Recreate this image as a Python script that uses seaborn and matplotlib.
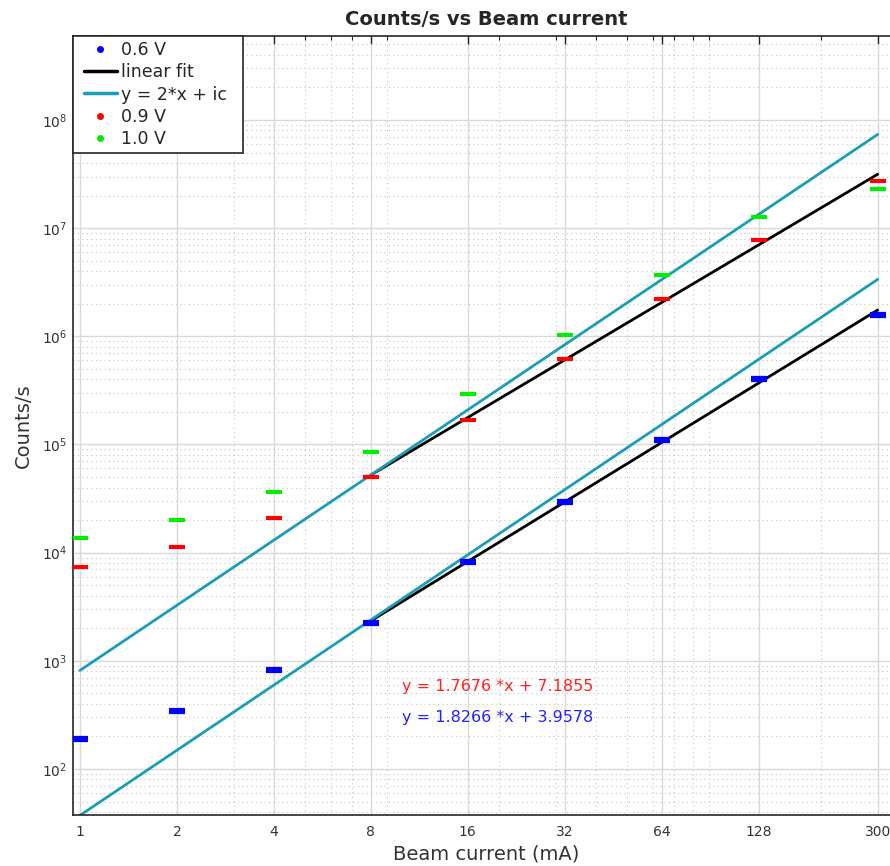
import numpy as np
import pandas as pd
import matplotlib
matplotlib.use("Agg")
import matplotlib.pyplot as plt
import matplotlib.ticker as mticker
from matplotlib.lines import Line2D
from matplotlib.legend_handler import HandlerLine2D
import seaborn as sns

# ---- data ----
current = [1, 2, 4, 8, 16, 32, 64, 128, 300]
counts_06 = [189, 344, 822, 2250, 8130, 29500, 110000, 400000, 1590000]
counts_09 = [7410, 11200, 20700, 49700, 168000, 612000, 2210000, 7740000, 27300000]
counts_10 = [13800, 19900, 36100, 85700, 290000, 1030000, 3700000, 12700000, 22800000]

fit_x = [8, 300]
fit_09 = [5.22e4, 3.15e7]
fit_06 = [2.34e3, 1.75e6]

slope2_x = [1, 300]
slope2_09 = [816, 7.35e7]
slope2_06 = [37.3, 3.36e6]

xticks = [1, 2, 4, 8, 16, 32, 64, 128, 300]
xticklabels = ["1", "2", "4", "8", "16", "32", "64", "128", "300"]

fit_text_09 = "y = 1.7676 *x + 7.1855"
fit_text_06 = "y = 1.8266 *x + 3.9578"
text_pos_x = [10, 10]
text_pos_y = [575, 300]

legend_labels = ["0.6 V", "linear fit", "y = 2*x + ic  ", "0.9 V", "1.0 V"]

# ---- styling ----
sns.set_theme(style="white")
plt.rcParams['font.family'] = ['DejaVu Sans']

BLUE = "#0000ff"
RED = "#ff0000"
GREEN = "#00ee00"
CYAN = "#1a9db6"

fig = plt.figure(figsize=(8.9, 8.66), dpi=100)
ax = fig.add_axes([0.0815, 0.0585, 0.9298, 0.8999])
ax.set_xscale('log')
ax.set_yscale('log')

# lines
sns.lineplot(x=fit_x, y=fit_06, color="black", lw=2.0, ax=ax, zorder=2)
sns.lineplot(x=fit_x, y=fit_09, color="black", lw=2.0, ax=ax, zorder=2)
sns.lineplot(x=slope2_x, y=slope2_06, color=CYAN, lw=2.0, ax=ax, zorder=2)
sns.lineplot(x=slope2_x, y=slope2_09, color=CYAN, lw=2.0, ax=ax, zorder=2)

# points (short horizontal bars)
sns.scatterplot(x=current, y=counts_06, marker='_', s=125, linewidth=4.5,
                color=BLUE, ax=ax, legend=False, zorder=3)
sns.scatterplot(x=current, y=counts_09, marker='_', s=125, linewidth=3.0,
                color=RED, ax=ax, legend=False, zorder=3)
sns.scatterplot(x=current, y=counts_10, marker='_', s=125, linewidth=3.0,
                color=GREEN, ax=ax, legend=False, zorder=3)

ax.set_xlim(0.948, 352)
ax.set_ylim(37.3, 5.97e8)

# ticks
ax.xaxis.set_major_locator(mticker.FixedLocator(xticks))
ax.xaxis.set_major_formatter(mticker.FixedFormatter(xticklabels))
ax.xaxis.set_minor_locator(mticker.LogLocator(base=10, subs=np.arange(2, 10) * 1.0, numticks=100))
ax.xaxis.set_minor_formatter(mticker.NullFormatter())
ax.yaxis.set_major_locator(mticker.LogLocator(base=10, numticks=20))
ax.yaxis.set_minor_locator(mticker.LogLocator(base=10, subs=np.arange(2, 10) * 1.0, numticks=100))
ax.yaxis.set_minor_formatter(mticker.NullFormatter())

ax.tick_params(which='both', direction='in', top=True, right=True,
               colors='#262626', labelcolor='#333333', labelsize=10)
ax.tick_params(which='major', length=6, width=1.0)
ax.tick_params(which='minor', length=3, width=0.8)
ax.tick_params(axis='x', pad=7)
ax.tick_params(axis='y', pad=4)

ax.grid(which='major', color='#d9d9d9', lw=1.0, ls='-', zorder=0)
ax.grid(which='minor', color='#c4c4c4', lw=0.8, ls=(0, (1, 3)), zorder=0)
ax.set_axisbelow(True)

for sp in ax.spines.values():
    sp.set_color('#262626')
    sp.set_linewidth(1.2)

ax.set_xlabel("Beam current (mA)", fontsize=14, color='#333333', labelpad=4)
ax.set_ylabel("Counts/s", fontsize=14, color='#333333', labelpad=6)
ax.set_title("Counts/s vs Beam current", fontsize=14, fontweight='bold', pad=8)

ax.text(text_pos_x[0], text_pos_y[0], fit_text_09, color="#ff2222", fontsize=11.5, va='center')
ax.text(text_pos_x[1], text_pos_y[1], fit_text_06, color="#2222ff", fontsize=11.5, va='center')

handles = [
    Line2D([], [], ls='none', marker='o', ms=4, color=BLUE),
    Line2D([], [], color='black', lw=2.5),
    Line2D([], [], color=CYAN, lw=2.5),
    Line2D([], [], ls='none', marker='o', ms=4, color=RED),
    Line2D([], [], ls='none', marker='o', ms=4, color=GREEN),
]
leg = ax.legend(handles, legend_labels, loc='upper left', bbox_to_anchor=(0, 1),
                borderaxespad=0, frameon=True, fancybox=False, framealpha=1,
                edgecolor='#262626', fontsize=12.5, handlelength=2.25,
                handletextpad=0.25, labelspacing=0.24, borderpad=0.3,
                handler_map={Line2D: HandlerLine2D(xpad=0.35)})
leg.get_frame().set_linewidth(1.2)
for t in leg.get_texts():
    t.set_color('#262626')

fig.savefig("out.png", dpi=100)
